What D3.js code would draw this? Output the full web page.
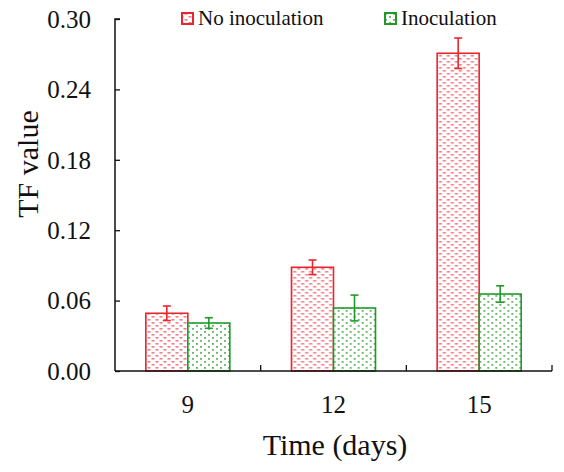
<!DOCTYPE html>
<html><head><meta charset="utf-8">
<script src="https://cdn.jsdelivr.net/npm/d3@7/dist/d3.min.js"></script>
<style>body{margin:0;background:#fff}svg{display:block}text{font-family:"Liberation Serif","Times New Roman",serif;fill:#111}</style>
</head><body>
<svg id="c" width="564" height="472"></svg>
<script>
const days = ["9", "12", "15"];
const seriesNames = ["No inoculation", "Inoculation"];
const noInoc = [0.0492, 0.0884, 0.2708];
const noInocErr = [0.0062, 0.0062, 0.013];
const inoc = [0.0409, 0.0537, 0.0656];
const inocErr = [0.0045, 0.011, 0.007];
const yTicks = [0.00, 0.06, 0.12, 0.18, 0.24, 0.30];

const colors = ["#e8262e", "#1f9a2a"];
const dotColors = ["#ee7f86", "#6db86f"];
const svg = d3.select("#c");
const m = {l:115, r:552, t:19, b:371};

const defs = svg.append("defs");
["pr","pg"].forEach((id,i)=>{
  const p = defs.append("pattern").attr("id",id).attr("patternUnits","userSpaceOnUse")
    .attr("width",8).attr("height",6);
  p.append("rect").attr("width",8).attr("height",6).attr("fill","#fff");
  if(i===0){
    p.append("rect").attr("x",0.5).attr("y",1).attr("width",3).attr("height",1.6).attr("fill",dotColors[0]);
    p.append("rect").attr("x",4.5).attr("y",4).attr("width",3).attr("height",1.6).attr("fill",dotColors[0]);
  } else {
    p.append("rect").attr("x",1).attr("y",1).attr("width",2).attr("height",1.8).attr("fill",dotColors[1]);
    p.append("rect").attr("x",5).attr("y",4).attr("width",2).attr("height",1.8).attr("fill",dotColors[1]);
  }
});

const x = d3.scaleBand().domain(days).range([m.l, m.r]).paddingInner(0).paddingOuter(0);
const inner = d3.scaleBand().domain(seriesNames).range([0, x.bandwidth()]).paddingInner(0).paddingOuter(0.734);
const y = d3.scaleLinear().domain([0, 0.30]).range([m.b, m.t]);

const data = days.map((d,i)=>({day:d, vals:[
  {s:seriesNames[0], v:noInoc[i], e:noInocErr[i], k:0},
  {s:seriesNames[1], v:inoc[i], e:inocErr[i], k:1}]}));

const g = svg.selectAll("g.grp").data(data).join("g").attr("class","grp")
  .attr("transform", d=>`translate(${x(d.day)},0)`);
g.selectAll("rect").data(d=>d.vals).join("rect")
  .attr("x", d=>inner(d.s)).attr("width", inner.bandwidth())
  .attr("y", d=>y(d.v)).attr("height", d=>y(0)-y(d.v))
  .attr("fill", d=>d.k===0?"url(#pr)":"url(#pg)")
  .attr("stroke", d=>colors[d.k]).attr("stroke-width",1.6);
// error bars
const eb = g.selectAll("g.eb").data(d=>d.vals).join("g").attr("class","eb")
  .attr("stroke", d=>colors[d.k]).attr("stroke-width",1.6);
eb.append("line").attr("x1",d=>inner(d.s)+inner.bandwidth()/2).attr("x2",d=>inner(d.s)+inner.bandwidth()/2)
  .attr("y1",d=>y(d.v-d.e)).attr("y2",d=>y(d.v+d.e));
eb.append("line").attr("x1",d=>inner(d.s)+inner.bandwidth()/2-4).attr("x2",d=>inner(d.s)+inner.bandwidth()/2+4)
  .attr("y1",d=>y(d.v+d.e)).attr("y2",d=>y(d.v+d.e));
eb.append("line").attr("x1",d=>inner(d.s)+inner.bandwidth()/2-4).attr("x2",d=>inner(d.s)+inner.bandwidth()/2+4)
  .attr("y1",d=>y(d.v-d.e)).attr("y2",d=>y(d.v-d.e));

// y axis
const ya = svg.append("g").attr("transform",`translate(${m.l},0)`)
  .call(d3.axisRight(y).tickValues(yTicks).tickSize(5).tickFormat(d3.format(".2f")));
ya.select(".domain").attr("d",`M5,${m.t}H0V${m.b}`).attr("stroke","#111").attr("stroke-width",1.5);
ya.selectAll(".tick line").attr("stroke","#111").attr("stroke-width",1.3);
ya.selectAll(".tick text").attr("x",-24).attr("text-anchor","end").attr("font-size",25)
  .attr("dy","0.33em").attr("fill","#111");

// x axis
const xa = svg.append("g").attr("transform",`translate(0,${m.b})`);
xa.append("line").attr("x1",m.l).attr("x2",m.r).attr("stroke","#111").attr("stroke-width",1.5);
const bounds = days.map(d=>x(d)+x.bandwidth());
xa.selectAll("line.tk").data(bounds).join("line").attr("class","tk")
  .attr("x1",d=>d).attr("x2",d=>d).attr("y1",0).attr("y2",-6).attr("stroke","#111").attr("stroke-width",1.3);
xa.selectAll("text").data(days).join("text")
  .attr("x",d=>x(d)+x.bandwidth()/2).attr("y",42).attr("text-anchor","middle")
  .attr("font-size",25).text(d=>d);

// titles
svg.append("text").attr("x",335).attr("y",455).attr("text-anchor","middle").attr("font-size",30).text("Time (days)");
svg.append("text").attr("transform","translate(38,164) rotate(-90)").attr("text-anchor","middle").attr("font-size",30).text("TF value");

// legend
const legX = [182, 385];
seriesNames.forEach((s,i)=>{
  svg.append("rect").attr("x",legX[i]).attr("y",13).attr("width",11).attr("height",11)
    .attr("fill",i===0?"url(#pr)":"url(#pg)").attr("stroke",colors[i]).attr("stroke-width",2);
  svg.append("text").attr("x",legX[i]+16).attr("y",25).attr("font-size",21).text(s);
});
</script>
</body></html>
